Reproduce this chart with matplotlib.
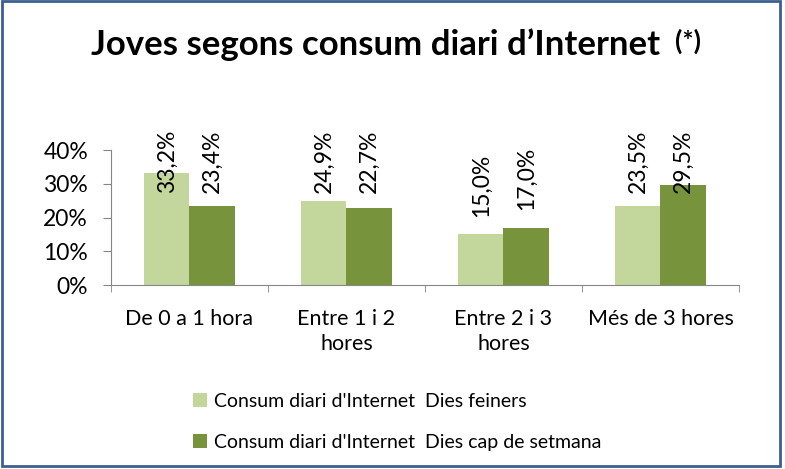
import numpy as np
import matplotlib.pyplot as plt
from matplotlib.patches import Rectangle

plt.rcParams['font.family'] = ['Lato', 'DejaVu Sans']

categories = ['De 0 a 1 hora', 'Entre 1 i 2\nhores', 'Entre 2 i 3\nhores', 'Més de 3 hores']
feiners = [33.2, 24.9, 15.0, 23.5]
cap_setmana = [23.4, 22.7, 17.0, 29.5]
series_names = ["Consum diari d'Internet  Dies feiners",
                "Consum diari d'Internet  Dies cap de setmana"]
colors = ['#c3d69b', '#77933c']

fig = plt.figure(figsize=(7.85, 4.69), dpi=100)
ax = fig.add_axes([0.1414, 0.3923, 0.80, 0.2878])

x = np.arange(len(categories))
w = 0.287
for i, (vals, col, name) in enumerate(zip([feiners, cap_setmana], colors, series_names)):
    pos = x - w / 2 + i * w
    ax.bar(pos, vals, width=w, color=col, label=name, zorder=2)
    for p, v in zip(pos, vals):
        # labels sit above the bar, but never past the top of the plot area
        y = min(v + 5.3, 27.3)
        ax.text(p, y, f'{v:.1f}%'.replace('.', ','), rotation=90, ha='center',
                va='bottom', fontsize=16.5, clip_on=False, zorder=3)

ax.set_xlim(-0.5, len(categories) - 0.5)
ax.set_ylim(0, 40)
ax.set_yticks([0, 10, 20, 30, 40])
ax.set_yticklabels([f'{t}%' for t in [0, 10, 20, 30, 40]], fontsize=16.5)
ax.set_xticks(x)
ax.set_xticklabels(categories, fontsize=15.5, linespacing=1.35)
ax.set_xticks(np.arange(-0.5, len(categories)), minor=True)
ax.tick_params(axis='x', which='major', length=0, pad=17)
ax.tick_params(axis='x', which='minor', length=5, color='#868686')
ax.tick_params(axis='y', length=5.5, color='#868686', pad=11)
for s in ['top', 'right']:
    ax.spines[s].set_visible(False)
for s in ['left', 'bottom']:
    ax.spines[s].set_color('#868686')

fig.text(0.478, 0.905, "Joves segons consum diari d’Internet", ha='center', va='center',
         fontsize=25, fontweight='bold')
fig.text(0.876, 0.912, '(*)', ha='center', va='center', fontsize=19, fontweight='bold')

fig.legend(loc='upper left', bbox_to_anchor=(0.223, 0.2), frameon=False, fontsize=14,
           handlelength=0.75, handleheight=0.75, handletextpad=0.35, labelspacing=1.25)

fig.add_artist(Rectangle((0.003, 0.006), 0.991, 0.991, transform=fig.transFigure,
                         fill=False, edgecolor='#3c5f8f', linewidth=2))

fig.savefig('out.png', dpi=100)
